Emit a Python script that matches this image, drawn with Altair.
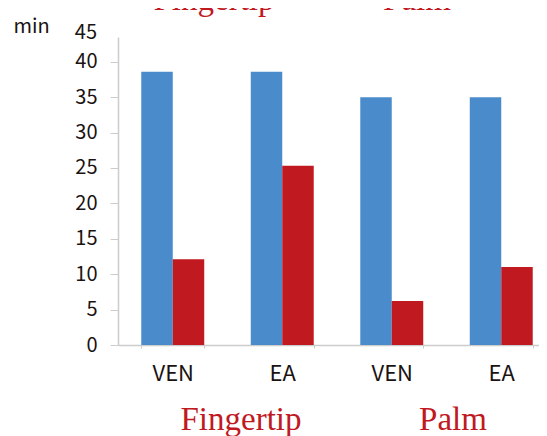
import altair as alt
import pandas as pd

# ---- data ----
conditions = ["Fingertip VEN", "Fingertip EA", "Palm VEN", "Palm EA"]
series = ["blue", "red"]
values_blue = [38.6, 38.6, 35.0, 35.0]
values_red = [12.1, 25.3, 6.2, 11.0]
y_ticks = [0, 5, 10, 15, 20, 25, 30, 35, 40]
group_labels = ["Fingertip", "Palm"]

rows = []
for c, b, r in zip(conditions, values_blue, values_red):
    rows.append({"cond": c, "series": "blue", "value": b})
    rows.append({"cond": c, "series": "red", "value": r})
df = pd.DataFrame(rows)

SANS = "Noto Sans CJK JP"
SERIF = "Liberation Serif"
INK = "#1a1311"
RED = "#c0191f"
BLUE = "#4a8ccb"
GRID = "#cccccc"

bars = alt.Chart(df).mark_bar().encode(
    x=alt.X(
        "cond:N",
        sort=conditions,
        scale=alt.Scale(range=[0, 438], paddingInner=0.425, paddingOuter=0.2125),
        axis=alt.Axis(
            title=None,
            labelExpr="split(datum.label, ' ')[1]",
            labelFont=SANS,
            labelFontSize=22,
            labelColor=INK,
            labelBaseline="alphabetic",
            labelPadding=32,
            labelAngle=0,
            tickSize=3,
            tickColor=GRID,
            tickBand="extent",
            domainColor=GRID,
            domainWidth=1.5,
        ),
    ),
    xOffset=alt.XOffset("series:N", sort=series, scale=alt.Scale(paddingInner=0, paddingOuter=0)),
    y=alt.Y(
        "value:Q",
        scale=alt.Scale(domain=[0, 43.49], nice=False, zero=True),
        axis=alt.Axis(
            values=y_ticks,
            title="min",
            titleAngle=0,
            titleAlign="left",
            titleBaseline="alphabetic",
            titleX=-105,
            titleY=-5,
            titleFont=SANS,
            titleFontSize=20,
            titleFontWeight="normal",
            titleColor=INK,
            labelFont=SANS,
            labelFontSize=20,
            labelColor=INK,
            labelPadding=13,
            tickSize=8,
            tickColor=GRID,
            domainColor=GRID,
            domainWidth=1.5,
            grid=False,
        ),
    ),
    color=alt.Color("series:N", scale=alt.Scale(domain=series, range=[BLUE, RED]), legend=None),
)

# label "45" above the axis end
top_label = alt.Chart(pd.DataFrame({"t": ["45"]})).mark_text(
    font=SANS, fontSize=20, color=INK, align="right", baseline="middle"
).encode(x=alt.value(-21), y=alt.value(-4), text="t:N")

# group labels (bottom) and cropped duplicate (top)
bottom_df = pd.DataFrame({"t": group_labels, "px": [123, 335]})
top_df = pd.DataFrame({"t": group_labels, "px": [96, 299]})

bottom_text = alt.Chart(bottom_df).mark_text(
    font=SERIF, fontSize=33, color=RED, align="center", baseline="alphabetic"
).encode(x=alt.X("px:Q", scale=None), y=alt.value(393), text="t:N")

top_text = alt.Chart(top_df).mark_text(
    font=SERIF, fontSize=33, color=RED, align="center", baseline="alphabetic"
).encode(x=alt.X("px:Q", scale=None), y=alt.value(-27), text="t:N")

chart = alt.layer(bars, top_label, bottom_text, top_text).properties(
    width=421,
    height=308,
    autosize=alt.AutoSizeParams(type="none"),
    padding={"left": 110, "top": 29, "right": 0, "bottom": 91},
).configure_view(stroke=None)

chart.save("out.html", embed_options={"renderer": "svg", "actions": False})
